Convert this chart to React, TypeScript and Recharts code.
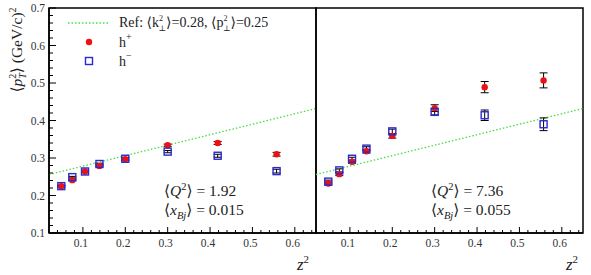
import { ScatterChart, Scatter, XAxis, YAxis, ErrorBar, ReferenceArea, ReferenceLine } from "recharts"

// z^2 bin centres (same binning in both Q^2 panels)
const zBins = [0.049, 0.075, 0.105, 0.139, 0.2, 0.3, 0.418, 0.557]

// <Q^2> = 1.92, <x_Bj> = 0.015
const lowHPlus = [0.225, 0.241, 0.264, 0.279, 0.297, 0.334, 0.34, 0.31]
const lowHMinus = [0.225, 0.249, 0.264, 0.284, 0.298, 0.317, 0.306, 0.265]
const lowHPlusErr = [0.002, 0.002, 0.002, 0.002, 0.003, 0.003, 0.004, 0.005]
const lowHMinusErr = [0.002, 0.002, 0.002, 0.002, 0.003, 0.003, 0.004, 0.005]

// <Q^2> = 7.36, <x_Bj> = 0.055
const highHPlus = [0.232, 0.257, 0.29, 0.318, 0.359, 0.433, 0.489, 0.507]
const highHMinus = [0.237, 0.267, 0.298, 0.325, 0.371, 0.423, 0.414, 0.39]
const highHPlusErr = [0.004, 0.004, 0.004, 0.005, 0.006, 0.009, 0.015, 0.02]
const highHMinusErr = [0.004, 0.004, 0.004, 0.005, 0.006, 0.008, 0.014, 0.017]

// reference curve end points
const refX = [0.02, 0.65]
const refY = [0.256, 0.432]

const xTicks = [
  0.02, 0.04, 0.06, 0.08, 0.1, 0.12, 0.14, 0.16, 0.18, 0.2, 0.22, 0.24, 0.26, 0.28, 0.3, 0.32,
  0.34, 0.36, 0.38, 0.4, 0.42, 0.44, 0.46, 0.48, 0.5, 0.52, 0.54, 0.56, 0.58, 0.6, 0.62, 0.64,
]
const yTicks = [
  0.1, 0.12, 0.14, 0.16, 0.18, 0.2, 0.22, 0.24, 0.26, 0.28, 0.3, 0.32, 0.34, 0.36, 0.38, 0.4,
  0.42, 0.44, 0.46, 0.48, 0.5, 0.52, 0.54, 0.56, 0.58, 0.6, 0.62, 0.64, 0.66, 0.68, 0.7,
]

const FONT = "'Liberation Serif', 'DejaVu Serif', 'Times New Roman', serif"
const RED = "#ee1111"
const BLUE = "#2a2ad0"
const GREEN = "#44dd44"
const serif = { fontFamily: FONT }

const isMajor = (v: number) => Math.abs(v * 10 - Math.round(v * 10)) < 1e-6

const rows = (ys: number[], es: number[]) => zBins.map((x, i) => ({ x, y: ys[i], e: es[i] }))

function XTick(props: any) {
  const { x, y, payload } = props
  const major = isMajor(payload.value)
  return (
    <g>
      <line x1={x} x2={x} y1={y} y2={y - (major ? 6 : 3)} stroke="#000" strokeWidth={1} />
      {major && (
        <text x={x - 2} y={y + 14} textAnchor="middle" fontSize={11.5} style={serif} fill="#333">
          {payload.value.toFixed(1)}
        </text>
      )}
    </g>
  )
}

function YTick(props: any) {
  const { x, y, payload, labels } = props
  const major = isMajor(payload.value)
  return (
    <g>
      <line x1={x} x2={x + (major ? 7 : 4)} y1={y} y2={y} stroke="#000" strokeWidth={1} />
      {major && labels && (
        <text x={x - 4} y={y + 4} textAnchor="end" fontSize={11.5} style={serif} fill="#333">
          {payload.value.toFixed(1)}
        </text>
      )}
    </g>
  )
}

const RedDot = (p: any) => <circle cx={p.cx} cy={p.cy} r={3.2} fill={RED} />
const BlueSquare = (p: any) => (
  <rect x={p.cx - 3.5} y={p.cy - 3.5} width={7} height={7} fill="none" stroke={BLUE} strokeWidth={1.4} />
)

function Panel(props: any) {
  const { left, width, marginLeft, marginRight, yWidth, labels, plus, minus } = props
  return (
    <div style={{ position: "absolute", left, top: 0 }}>
      <ScatterChart width={width} height={275} margin={{ top: 8, right: marginRight, bottom: 0, left: marginLeft }}>
        <XAxis
          type="number"
          dataKey="x"
          domain={[0.02, 0.65]}
          ticks={xTicks}
          interval={0}
          allowDataOverflow
          height={42}
          tickLine={false}
          tickSize={0}
          tickMargin={0}
          axisLine={{ stroke: "#000", strokeWidth: 1.5 }}
          tick={(p: any) => <XTick {...p} />}
        />
        <YAxis
          type="number"
          dataKey="y"
          domain={[0.1, 0.7]}
          ticks={yTicks}
          interval={0}
          allowDataOverflow
          width={yWidth}
          tickLine={false}
          tickSize={0}
          tickMargin={0}
          axisLine={{ stroke: "#000", strokeWidth: 1.5 }}
          tick={(p: any) => <YTick {...p} labels={labels} />}
        />
        <ReferenceArea x1={0.02} x2={0.65} y1={0.1} y2={0.7} fill="none" stroke="#000" strokeWidth={1.5} />
        <ReferenceLine
          segment={[
            { x: refX[0], y: refY[0] },
            { x: refX[1], y: refY[1] },
          ]}
          stroke={GREEN}
          strokeDasharray="1.5 2"
          strokeWidth={1.3}
        />
        <Scatter data={plus} shape={RedDot} isAnimationActive={false}>
          <ErrorBar dataKey="e" direction="y" width={4} stroke="#000" strokeWidth={1} />
        </Scatter>
        <Scatter data={minus} shape={BlueSquare} isAnimationActive={false}>
          <ErrorBar dataKey="e" direction="y" width={4} stroke="#000" strokeWidth={1} />
        </Scatter>
      </ScatterChart>
    </div>
  )
}

function Stats({ x, q2, xbj }: { x: number; q2: string; xbj: string }) {
  return (
    <g fontSize={15.5} fill="#222">
      <text x={x} y={196} style={serif}>
        ⟨<tspan fontStyle="italic">Q</tspan>
        <tspan fontSize={10.5} dy={-6}>2</tspan>
        <tspan dy={6}>⟩ = {q2}</tspan>
      </text>
      <text x={x} y={215} style={serif}>
        ⟨<tspan fontStyle="italic">x</tspan>
        <tspan fontSize={10.5} fontStyle="italic" dy={4}>Bj</tspan>
        <tspan dy={-4}>⟩ = {xbj}</tspan>
      </text>
    </g>
  )
}

function ZLabel({ x }: { x: number }) {
  return (
    <text x={x} y={270} textAnchor="end" style={serif} fontSize={17} fill="#222">
      <tspan fontStyle="italic">z</tspan>
      <tspan fontSize={11} dy={-7}>2</tspan>
    </text>
  )
}

export default function App() {
  return (
    <div
      style={{ position: "absolute", left: 0, top: 0, width: 591, height: 275, background: "#fff", fontFamily: FONT }}
    >
      <Panel
        left={0}
        width={318}
        marginLeft={0}
        marginRight={2}
        yWidth={49}
        labels
        plus={rows(lowHPlus, lowHPlusErr)}
        minus={rows(lowHMinus, lowHMinusErr)}
      />
      <Panel
        left={314}
        width={277}
        marginLeft={2}
        marginRight={8}
        yWidth={0}
        labels={false}
        plus={rows(highHPlus, highHPlusErr)}
        minus={rows(highHMinus, highHMinusErr)}
      />
      <svg width={591} height={275} style={{ position: "absolute", left: 0, top: 0, pointerEvents: "none" }}>
        {/* y title */}
        <text transform="translate(22,50) rotate(-90)" textAnchor="middle" style={serif} fontSize={15.5} fill="#222">
          ⟨<tspan fontStyle="italic">p</tspan>
          <tspan fontSize={10} dy={-6.5}>2</tspan>
          <tspan fontSize={10} fontStyle="italic" dx={-5} dy={10}>T</tspan>
          <tspan dy={-3.5}>⟩ (GeV/c)</tspan>
          <tspan fontSize={10} dy={-6.5}>2</tspan>
        </text>

        {/* legend */}
        <line x1={68} x2={108} y1={23} y2={23} stroke={GREEN} strokeDasharray="1.5 2" strokeWidth={1.3} />
        <text x={119} y={27} style={serif} fontSize={14} fill="#222">
          Ref: ⟨k<tspan fontSize={8} dy={-6.5}>2</tspan>
          <tspan fontSize={8} dx={-4.5} dy={10}>⊥</tspan>
          <tspan dy={-3.5}>⟩=0.28, ⟨p</tspan>
          <tspan fontSize={8} dy={-6.5}>2</tspan>
          <tspan fontSize={8} dx={-4.5} dy={10}>⊥</tspan>
          <tspan dy={-3.5}>⟩=0.25</tspan>
        </text>
        <circle cx={89} cy={42} r={3.2} fill={RED} />
        <text x={119} y={47} style={serif} fontSize={14} fill="#222">
          h<tspan fontSize={10} dy={-7}>+</tspan>
        </text>
        <rect x={85.5} y={57.5} width={7} height={7} fill="none" stroke={BLUE} strokeWidth={1.4} />
        <text x={119} y={66} style={serif} fontSize={14} fill="#222">
          h<tspan fontSize={10} dy={-7}>−</tspan>
        </text>

        <Stats x={164} q2="1.92" xbj="0.015" />
        <Stats x={431} q2="7.36" xbj="0.055" />
        <ZLabel x={309} />
        <ZLabel x={578} />
      </svg>
    </div>
  )
}
